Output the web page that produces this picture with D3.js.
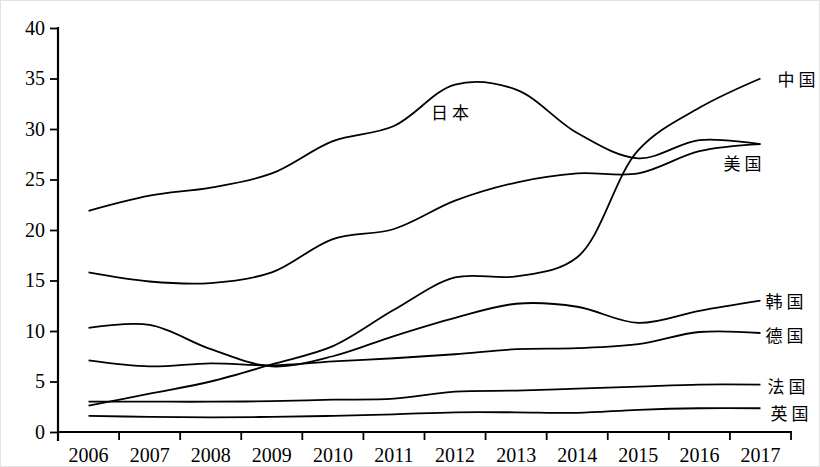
<!DOCTYPE html>
<html>
<head>
<meta charset="utf-8">
<script src="https://cdn.jsdelivr.net/npm/d3@7"></script>
<style>
  html, body { margin: 0; padding: 0; background: #fff; }
  svg { display: block; }
</style>
</head>
<body>
<svg id="chart" width="820" height="467"></svg>
<script>
const years = ["2006","2007","2008","2009","2010","2011","2012","2013","2014","2015","2016","2017"];
const yTicks = [0, 5, 10, 15, 20, 25, 30, 35, 40];

const japan   = [21.9, 23.4, 24.2, 25.6, 28.8, 30.3, 34.4, 33.9, 29.6, 27.1, 28.9, 28.5];
const usa     = [15.8, 14.9, 14.75, 15.8, 19.1, 20.1, 22.9, 24.7, 25.6, 25.6, 27.8, 28.5];
const china   = [2.6, 3.8, 5.0, 6.7, 8.5, 12.1, 15.3, 15.4, 17.3, 27.9, 32.1, 35.0];
const korea   = [10.3, 10.6, 8.2, 6.5, 7.5, 9.5, 11.3, 12.7, 12.4, 10.8, 12.0, 13.0];
const germany = [7.1, 6.5, 6.8, 6.6, 7.0, 7.3, 7.7, 8.2, 8.3, 8.7, 9.9, 9.8];
const france  = [3.0, 3.0, 3.0, 3.05, 3.2, 3.3, 4.0, 4.1, 4.3, 4.5, 4.7, 4.7];
const uk      = [1.6, 1.5, 1.45, 1.5, 1.6, 1.75, 1.95, 1.95, 1.9, 2.2, 2.35, 2.35];

const seriesNames = ["日本", "美国", "中国", "韩国", "德国", "法国", "英国"];
const seriesValues = [japan, usa, china, korea, germany, france, uk];

const svg = d3.select("#chart");
const W = 820, H = 467;

svg.append("rect").attr("x", 0.5).attr("y", 0.5).attr("width", W - 1).attr("height", H - 1)
  .attr("fill", "#fff").attr("stroke", "#e2e2e2");

const x = d3.scaleBand().domain(years).range([58, 791]).padding(0);
const y = d3.scaleLinear().domain([0, 40]).range([432, 28]);

// Y axis
const yAxis = d3.axisLeft(y).tickValues(yTicks).tickSize(8).tickPadding(5).tickFormat(d3.format("d"));
const gy = svg.append("g").attr("transform", "translate(58,0)").call(yAxis);
gy.select(".domain").attr("stroke", "#000").attr("stroke-width", 2.2).attr("d", "M0,27V441");
gy.selectAll(".tick line").attr("stroke", "#000").attr("stroke-width", 1.8);
gy.selectAll(".tick text").attr("font-family", "'Liberation Serif', serif").attr("font-size", 20).attr("fill", "#000");

// X axis
const boundaries = years.map(d => x(d)).concat([x(years[years.length - 1]) + x.bandwidth()]);
const gx = svg.append("g").attr("transform", "translate(0,432)");
gx.append("line").attr("x1", 57).attr("x2", 792).attr("y1", 0).attr("y2", 0)
  .attr("stroke", "#000").attr("stroke-width", 2.2);
gx.selectAll("line.tk").data(boundaries).join("line").attr("class", "tk")
  .attr("x1", d => d).attr("x2", d => d).attr("y1", 0).attr("y2", 8)
  .attr("stroke", "#000").attr("stroke-width", 1.8);
gx.selectAll("text").data(years).join("text")
  .attr("x", d => x(d) + x.bandwidth() / 2).attr("y", 30)
  .attr("text-anchor", "middle")
  .attr("font-family", "'Liberation Serif', serif").attr("font-size", 20).attr("fill", "#000")
  .text(d => d);

// Lines
const line = d3.line()
  .x((d, i) => x(years[i]) + x.bandwidth() / 2)
  .y(d => y(d))
  .curve(d3.curveCatmullRom.alpha(0.5));

svg.append("g").selectAll("path").data(seriesValues).join("path")
  .attr("d", d => line(d))
  .attr("fill", "none").attr("stroke", "#000").attr("stroke-width", 1.8)
  .attr("stroke-linejoin", "round");

// Labels anchored to series points
const labelAnchor = { "日本": [6, -24, 27], "美国": [11, -37, 18], "中国": [11, 17, 0], "韩国": [11, 5, 0],
  "德国": [11, 5, 1], "法国": [11, 7, 1], "英国": [11, 10, 4] };
seriesNames.forEach((name, k) => {
  const [idx, dx, dy] = labelAnchor[name];
  svg.append("text")
    .attr("x", x(years[idx]) + x.bandwidth() / 2 + dx)
    .attr("y", y(seriesValues[k][idx]) + dy)
    .attr("dominant-baseline", "central")
    .attr("font-family", "'Noto Sans CJK SC', sans-serif")
    .attr("font-size", 17).attr("letter-spacing", 4).attr("fill", "#000")
    .text(name);
});
</script>
</body>
</html>
